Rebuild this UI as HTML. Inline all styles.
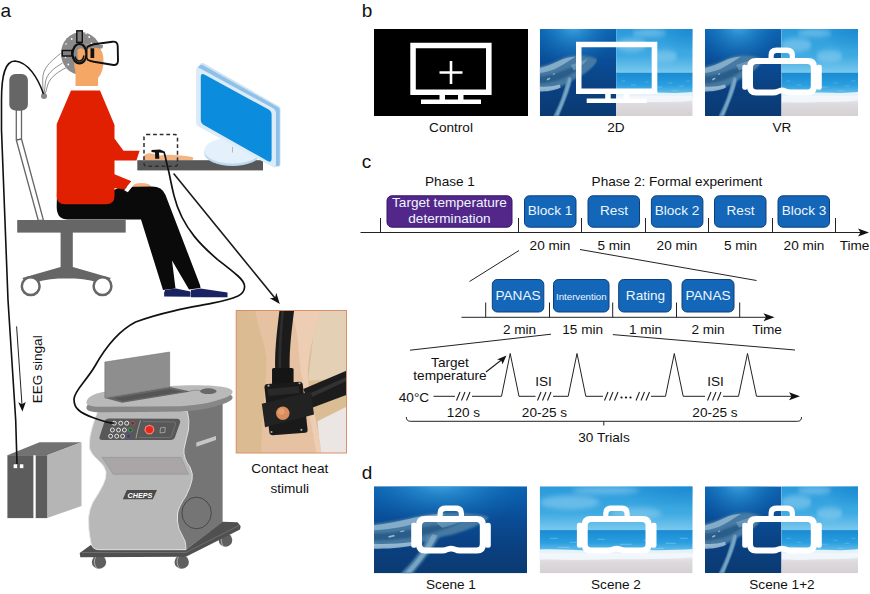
<!DOCTYPE html>
<html>
<head>
<meta charset="utf-8">
<title>Figure</title>
<style>
html,body{margin:0;padding:0;background:#fff;}
body{width:870px;height:594px;overflow:hidden;font-family:"Liberation Sans",sans-serif;}
svg{display:block;}
text{font-family:"Liberation Sans",sans-serif;fill:#111;}
.t{font-size:13.6px;text-anchor:middle;}
.lab{font-size:19px;}
.w{fill:#fff;}
</style>
</head>
<body>
<svg width="870" height="594" viewBox="0 0 870 594">
<defs>
<linearGradient id="oc1" x1="0" y1="0" x2="0" y2="1">
<stop offset="0" stop-color="#0c64b2"/><stop offset="0.35" stop-color="#0a4e98"/><stop offset="0.7" stop-color="#0a4080"/><stop offset="1" stop-color="#0b3a72"/>
</linearGradient>
<radialGradient id="oc2" cx="0.44" cy="-0.1" r="0.6">
<stop offset="0" stop-color="#58b8e8" stop-opacity="1"/><stop offset="0.35" stop-color="#2a92d4" stop-opacity="0.7"/><stop offset="1" stop-color="#0c62b0" stop-opacity="0"/>
</radialGradient>
<linearGradient id="sky" x1="0" y1="0" x2="0" y2="1">
<stop offset="0" stop-color="#2a9adb"/><stop offset="0.600" stop-color="#3eaae2"/><stop offset="1" stop-color="#7ccaee"/>
</linearGradient>
<linearGradient id="sea" x1="0" y1="0" x2="0" y2="1">
<stop offset="0" stop-color="#1a8ad2"/><stop offset="0.5" stop-color="#2a9fe0"/><stop offset="0.85" stop-color="#6cc0ea"/><stop offset="1" stop-color="#c0e4f6"/>
</linearGradient>
<linearGradient id="sand" x1="0" y1="0" x2="0" y2="1">
<stop offset="0" stop-color="#eef4f9"/><stop offset="0.4" stop-color="#dedbdf"/><stop offset="1" stop-color="#d4d0d4"/>
</linearGradient>
<filter id="bl1" x="-20%" y="-20%" width="140%" height="140%"><feGaussianBlur stdDeviation="1.3"/></filter>
<filter id="bl3" x="-30%" y="-50%" width="160%" height="200%"><feGaussianBlur stdDeviation="2.500"/></filter>
<radialGradient id="skyc" cx="1" cy="0" r="0.500"><stop offset="0" stop-color="#1583cc" stop-opacity="0.700"/><stop offset="1" stop-color="#1583cc" stop-opacity="0"/></radialGradient>
<filter id="bl2" x="-20%" y="-20%" width="140%" height="140%"><feGaussianBlur stdDeviation="0.7"/></filter>
<clipPath id="cfull"><rect x="0" y="0" width="153" height="87"/></clipPath>
<clipPath id="cleft"><rect x="0" y="0" width="76.500" height="87"/></clipPath>
<clipPath id="cright"><rect x="76.500" y="0" width="76.500" height="87"/></clipPath>
<g id="oceanraw">
<rect width="153" height="87" fill="url(#oc1)"/>
<rect width="153" height="87" fill="url(#oc2)"/>
<g filter="url(#bl1)">
<path d="M-4 38 C10 36.500 24 34.500 37 31.300 C50 28 60 27 70.500 26.600 C82 26.200 92 26.600 100 27.600 C108 28.600 113 29.500 115 31 C113 34 106 38 100 40.600 C90 45 80 48 70.500 50 C60 53 50 56 42.500 57.400 C34 59.500 20 61 -4 61 Z" fill="#4a7ca3" opacity="0.950"/>
<path d="M-4 47 C14 47 30 45 46 41.500 C60 38.500 74 37 88 35 C80 40 66 45 52 48.500 C36 52.500 16 54.500 -4 54.500 Z" fill="#1c507e" opacity="0.650"/>
<path d="M54 50 C50 60 42 72 34 80 C30 84 28 86 26 89 L37 89 C43 82 51 72 57 64 C61 58 63 54 65 50 Z" fill="#5a8db2" opacity="0.950"/>
</g>
<g filter="url(#bl2)">
<path d="M0 39 C12 37.500 24 35.500 38 32 C50 29 60 28 72 27.500 C62 31 50 34.500 40 37.500 C26 41.500 12 43.500 0 44 Z" fill="#9cc2da" opacity="0.700"/>
<path d="M0 57.500 C12 58 26 57.500 40 55.500 L42 58.500 C28 62 12 62.500 0 62.500 Z" fill="#b0cee0" opacity="0.750"/>
<path d="M58 48 C54 58 46 70 38 79 L32 86 L37 86 C44 79 52 68 58 59 C60 55 62 52 63 49 Z" fill="#9cc0d8" opacity="0.500"/>
<path d="M62 36 C72 34 84 33 96 29.500 C90 35 78 39.500 68 41.500 Z" fill="#7fabc8" opacity="0.600"/>
<path d="M14 50 l6 -1.500 l1 1.500 l-6 1.500 Z M26 45 l4 -1 l0.500 1 l-4 1 Z" fill="#c4dcea" opacity="0.700"/>
</g>
</g>
<g id="ocean" clip-path="url(#cfull)"><use href="#oceanraw"/></g>
<g id="beachraw">
<rect width="153" height="44.500" fill="url(#sky)"/>
<rect width="153" height="44.500" fill="url(#skyc)"/>
<g fill="#b4e0f6" opacity="0.400" filter="url(#bl3)">
<ellipse cx="30" cy="16" rx="30" ry="7"/><ellipse cx="96" cy="27" rx="26" ry="6"/><ellipse cx="66" cy="4" rx="34" ry="4"/>
</g>
<rect y="43.800" width="153" height="25" fill="url(#sea)"/>
<rect y="67" width="153" height="20" fill="url(#sand)"/>
<path d="M-4 63.500 C20 62 40 65 60 64 C90 62.500 120 65.500 157 62.500 L157 71 C120 74 80 72.500 50 73.500 C30 74 10 72.500 -4 73.500 Z" fill="#f2f8fc" opacity="0.900" filter="url(#bl2)"/>
<g stroke="#d8f0fb" stroke-width="0.700" opacity="0.450" fill="none">
<path d="M10 52 h8 M30 56 h10 M58 53 h7 M80 58 h12 M104 54 h8 M126 57 h10 M18 61 h12 M66 62 h14 M112 62 h12 M140 52 h8"/>
</g>
</g>
<g id="beach" clip-path="url(#cfull)"><use href="#beachraw"/></g>
<g id="combo" clip-path="url(#cfull)">
<g transform="translate(76.500 0) scale(0.5 1)"><use href="#beachraw"/></g>
<g clip-path="url(#cleft)"><g transform="scale(0.5 1)"><use href="#oceanraw"/></g></g>
</g>
<g id="vr" fill="#fff" fill-rule="evenodd">
<path d="M51 29.700 H103 Q112 29.700 112 38.700 V58.300 Q112 67.300 103 67.300 H86 Q82.500 67.300 80.500 66 Q77 64.300 73.500 66 Q71.500 67.300 68 67.300 H51 Q42 67.300 42 58.300 V38.700 Q42 29.700 51 29.700 Z M51.500 35.800 Q48 35.800 48 39.300 V57.800 Q48 61.300 51.500 61.300 H68 Q71 61.300 73 60.200 Q77 58.500 81 60.200 Q83 61.300 86 61.300 H102.300 Q105.800 61.300 105.800 57.800 V39.300 Q105.800 35.800 102.300 35.800 Z"/>
<rect x="37.200" y="36.500" width="5.800" height="25" rx="2.300"/>
<rect x="111" y="36.500" width="5.800" height="25" rx="2.300"/>
<path d="M63.500 30.500 V27.200 Q63.500 19.200 71.500 19.200 H82 Q90 19.200 90 27.200 V30.500 H84.800 V27.800 Q84.800 24.800 81.800 24.800 H71.700 Q68.700 24.800 68.700 27.800 V30.500 Z"/>
</g>
<g id="mon" fill="#fff" fill-rule="evenodd">
<path d="M36.300 13.700 H117.600 V66 H36.300 Z M41.800 19.200 V60.500 H112 V19.200 Z"/>
<rect x="65.500" y="65.500" width="5.500" height="5.500"/><rect x="84" y="65.500" width="5.500" height="5.500"/>
<rect x="47" y="70.500" width="60" height="4.500"/>
</g>

</defs>
<rect width="870" height="594" fill="#fff"/>
<g id="panel-a">
<text class="lab" x="0.500" y="17">a</text>
<!-- chair -->
<g id="chair">
<rect x="9.300" y="74" width="18.600" height="36.500" rx="6" fill="#666"/>
<path d="M16.300 110 L21.500 110 L21.500 139 L43.500 220.500 L38.300 220.500 L16.300 140 Z" fill="#fff" stroke="#666" stroke-width="1.300" stroke-linejoin="round"/>
<path d="M16.300 140 L21.500 139" stroke="#666" stroke-width="1.300"/>
<rect x="17.200" y="220" width="108.500" height="12.600" fill="#666"/>
<path d="M60.600 232 H72.800 V267 L111 278 L104 284.500 Q92 279.500 74.800 278.400 L58.600 278.400 Q42 279.500 29 284.500 L22.200 278 L60.600 267 Z" fill="#666"/>
<circle cx="30.700" cy="286.200" r="8.900" fill="#fff" stroke="#666" stroke-width="2.500"/>
<circle cx="102.500" cy="286.200" r="8.900" fill="#fff" stroke="#666" stroke-width="2.500"/>
</g>
<!-- electrode wires -->
<g fill="none" stroke="#444" stroke-width="0.600">
<path d="M60.500 53.500 C50 62 42.500 68 42.700 80 L43 93"/>
<path d="M62.500 63 C54 68 46.500 74 45.500 82 L44.200 93"/>
<path d="M69 66.500 C60 70 50.500 77 48 84 L45.400 93"/>
</g>
<circle cx="44" cy="96" r="3" fill="#888"/>
<!-- person -->
<g id="person">
<path d="M143 160.200 L143.500 156 Q146 153 150 153.300 Q156 154 160 155.500 Q166 154.500 172 155 Q184 155.500 192 157 Q195 158.500 192 160.200 Z" fill="#f3b482"/>
<ellipse cx="141.500" cy="186.500" rx="9.500" ry="3.500" fill="#f3b482"/>
<!-- pants -->
<path d="M57 190 L114 190 L120 187 L152 186.600 Q162 186.600 165.500 195 L200 285 L200.500 288 L189 289.500 L172 260.500 L175.500 288.500 L163 290 L141 219.500 L68 219.500 Q56.700 219.500 56.700 207 Z" fill="#0a0a0a"/>
<!-- shoes -->
<path d="M165 290 L176 288.500 L190.500 291.500 L190.500 296.800 L164.200 296.500 Q163.800 292 165 290 Z" fill="#1b2262"/>
<path d="M191 290 L200.500 288.500 L227.500 292.500 L227.500 297.300 L191 297.300 Z" fill="#1b2262"/>
<!-- sweater -->
<path d="M71 90.500 L100 90.500 L114.500 125 L114.500 138.600 L123.500 150.700 L139.600 150.700 L136.400 160.400 L114.500 160.400 L114.500 174.300 L131.500 181.200 L124.500 189.500 L114.500 188 L114.500 196 Q114.500 204.200 106 204.200 L65 204.200 Q56.700 204.200 56.700 196 L56.700 124 Z" fill="#e02000"/>
<path d="M132.300 180.300 L135.800 182.300 L127.800 192.300 L124.200 190.200 Z" fill="#fff"/>
<!-- head -->
<ellipse cx="81" cy="53.500" rx="20" ry="21.500" fill="#8a8a8a"/>
<path d="M75.500 86 L75.500 72 Q73.800 66 74 58 Q75 45 88 44.500 Q103.500 45 103.500 60 Q103.500 72 98 78 L98 86 Z" fill="#f5a766"/>
<path d="M74 45 L103 45 L102.500 48.500 L92 47.500 L86 53 L80 62 L74 62 Z" fill="#8a8a8a"/>
<g fill="#fff"><circle cx="71.700" cy="39" r="0.900"/><circle cx="89.200" cy="37" r="0.900"/><circle cx="91.500" cy="43.500" r="0.900"/><circle cx="68.300" cy="64.500" r="0.900"/><circle cx="65.500" cy="57.500" r="0.800"/><circle cx="86" cy="33.500" r="0.800"/><circle cx="66" cy="44" r="0.800"/></g>
<!-- headset -->
<rect x="76.800" y="30.800" width="5.500" height="11.500" fill="#808080" stroke="#111" stroke-width="1.400"/>
<rect x="62.300" y="50.500" width="9.500" height="5.500" fill="#808080" stroke="#111" stroke-width="1.400"/>
<ellipse cx="79.500" cy="53.700" rx="7" ry="9.700" fill="#8a8a8a" stroke="#111" stroke-width="2.200"/>
<path d="M77.500 50 Q81 46.500 84.500 50 L85 57 Q83 61.500 79.500 61 Q77 60 77.500 50 Z" fill="#f5a766"/><path d="M75 56.500 Q76 61 79.500 61 Q83 61 84 55.500" fill="none" stroke="#111" stroke-width="1.500"/>
<path d="M87.200 47 V59.500" stroke="#111" stroke-width="1.600" fill="none"/>
<rect x="87.500" y="48.500" width="3.500" height="9.500" fill="#f5a766"/>
<rect x="90.500" y="48.300" width="3.700" height="9.700" fill="#111"/>
<path d="M87 47 Q91 45 94 44.300 L112.500 41.700 Q117.500 41.300 117.700 46 L118 60.500 Q118 65.300 113.500 65 L94 61.800 Q90 61 87 59.500" fill="none" stroke="#111" stroke-width="1.900" stroke-linejoin="round"/>
</g>
<!-- desk + monitor -->
<rect x="137.300" y="160.200" width="125.700" height="10.200" fill="#585858"/>
<ellipse cx="232.500" cy="153" rx="28.300" ry="13" fill="#bcd9f0"/>
<ellipse cx="232.500" cy="150.500" rx="28.300" ry="13" fill="#e4f0fa"/>
<path d="M232.500 147 V152.500" stroke="#9ab" stroke-width="0.800"/>
<path d="M200 64.500 Q201.500 62 204.500 63.700 L279 106.200 Q280.500 107 280.500 109 L280.500 164 Q280.500 167.500 277.500 166.500 L275 167 L275 110 L197 67.500 Z" fill="#cfe3f5"/>
<path d="M199 66.500 Q200.500 63.800 203.500 65.500 L278.500 107.600 Q279.700 108.400 279.700 110 L279.700 164 Q279.700 166.500 277.500 166 L275 166.500 L275 110 L197.500 68 Z" fill="#8ec1e8"/>
<path d="M196 70.500 Q196 66.300 199.800 68.300 L273.500 108.500 Q276 110 276 113 L276 165 Q276 168.800 272.800 167 L198.500 126.500 Q196 125 196 122 Z" fill="#dcebf8"/>
<path d="M200.800 77 Q200.800 72.500 204.800 74.700 L268.600 109.600 Q271.600 111.300 271.600 114.800 L271.600 158.600 Q271.600 163.200 267.600 161 L203.800 125 Q200.800 123.300 200.800 119.800 Z" fill="#0b8cdc"/>
<!-- dashed box -->
<rect x="144" y="134.500" width="33.500" height="31.800" rx="2.500" fill="none" stroke="#2e2e2e" stroke-width="1.500" stroke-dasharray="3.800 2.800"/>
<path d="M151.500 150 L160 149.500 L164.500 151.500 L164.500 153 L159 152.500 L159.300 158.800 L155.200 158.800 L155 152.500 L151.500 152 Z" fill="#111"/>
<!-- arrow to photo -->
<path d="M173.600 173.400 L275.500 298.800" stroke="#1a1a1a" stroke-width="1.600" fill="none"/>
<path d="M279.800 304 L269.800 298.300 L275 297.800 L276.300 292.800 Z" fill="#111"/>
<!-- EEG arrow -->
<path d="M16.600 326.400 L22 405" stroke="#222" stroke-width="1" fill="none"/>
<path d="M22.400 411.500 L18.200 402.300 L21.900 404.300 L25.800 402 Z" fill="#111"/>
<text class="t" transform="translate(41.800 369.300) rotate(-90)" x="0" y="0">EEG singal</text>
<!-- EEG box -->
<g id="eegbox">
<path d="M7.400 455.200 L39.500 442.200 L81.500 442.200 L47.200 455.200 Z" fill="#727272"/>
<path d="M47.200 455.200 L81.500 442.200 L81.500 506 L47.200 518.100 Z" fill="#b5b5b5"/>
<rect x="7.400" y="455.200" width="26" height="62.900" fill="#5c5c5c"/>
<rect x="35.700" y="455.200" width="11.500" height="62.900" fill="#5c5c5c"/>
<rect x="13.200" y="464" width="4.200" height="4.400" fill="#fff" stroke="#444" stroke-width="0.500"/><rect x="19.600" y="464" width="4.200" height="4.400" fill="#fff" stroke="#444" stroke-width="0.500"/>
</g>
<!-- EEG cable -->
<path d="M43.500 94 C38 78 28 62 15 61 C5 61 1.500 75 1.500 100 L1.500 130 L8 300 L15.700 420 L17 464" fill="none" stroke="#111" stroke-width="1.600"/>
<!-- CHEPS machine -->
<g id="cheps">
<!-- wheels -->
<g fill="#5f5f5f"><ellipse cx="99" cy="562" rx="7.200" ry="6.800"/><ellipse cx="181.700" cy="562" rx="7.200" ry="6.800"/><ellipse cx="225.500" cy="540" rx="6.800" ry="6.800"/></g>
<g fill="none" stroke="#d0d0d0" stroke-width="0.700"><path d="M96 556.500 Q92.500 562 96.500 568"/><path d="M178.700 556.500 Q175.200 562 179.200 568"/><path d="M222.500 534.500 Q219.500 540 223 546"/></g>
<!-- base platform -->
<path d="M79.700 553 L90.700 545 L185.900 549.700 L222 521.700 L237.600 522.300 L240.700 526.300 L240 529.600 L185.900 556.700 L80.300 557.200 Z" fill="#505050"/>
<path d="M82 552.500 L186 552.500 L239 525.500" fill="none" stroke="#7a7a7a" stroke-width="0.700"/>
<!-- dark side body -->
<path d="M184 408 L222.600 400 L222.600 522 L186 550 L176 548 Z" fill="#757575"/>
<!-- front body -->
<path d="M97.600 411.500 L187.400 411.500 Q189.800 420 188.500 430 Q186 440 184 449 Q183 458 190 467 Q193.500 474 192 480 Q190.500 487 186 496 Q179 506 177.600 513 Q176.500 521 179 529 Q183 537 185 541 Q186 545 185.900 549.700 L99 549.700 Q91.500 549.500 90.700 542 Q88 528 88.600 517.600 Q89 510 93 502 Q99 493 103 485 Q106.500 478 106 472 Q105 466 98 460 Q90 453 89.300 447 Q89 438 92 428 Q95 418 97.600 411.500 Z" fill="#b8b8b8" stroke="#e8e8e8" stroke-width="0.900"/>
<ellipse cx="196.600" cy="513" rx="14.700" ry="15.800" fill="none" stroke="#2a2a2a" stroke-width="0.600"/>
<path d="M196.300 442.600 L216 436 L216 440 L196.300 446.800 Z" fill="#c6c6c6"/>
<!-- drawer -->
<path d="M102.200 457.400 L181 457.400 L188.300 474.200 L113.300 474.200 Z" fill="#aaa6a8" stroke="#8a8a8a" stroke-width="0.500"/>
<!-- control panel -->
<path d="M109 418.500 L177 418.800 Q181 419 180 423 L175 437 Q174 440 170.500 440 L102.500 440 Q98.500 440 99.700 436.500 L104.500 421.500 Q105.500 418.500 109 418.500 Z" fill="#585858"/>
<path d="M140.500 420.500 Q137.500 429 136 438.500" stroke="#ccc" stroke-width="0.600" fill="none"/>
<path d="M143 421.500 L174 422 Q176 422 175.500 424 L171.500 436 Q171 437.500 169 437.500 L139 437.500" stroke="#8a8a8a" stroke-width="0.500" fill="none"/>
<g fill="none" stroke="#f2f2f2" stroke-width="0.900">
<circle cx="114.300" cy="423.200" r="2"/><circle cx="120.700" cy="423.200" r="2"/><circle cx="126.700" cy="423.200" r="2"/>
<circle cx="112.400" cy="430" r="2"/><circle cx="118.500" cy="430" r="2"/><circle cx="124.400" cy="430" r="2"/>
<circle cx="110.600" cy="436.200" r="2"/><circle cx="116.700" cy="436.200" r="2"/><circle cx="122.600" cy="436.200" r="2"/>
</g>
<circle cx="132.800" cy="423.200" r="2" fill="#444" stroke="#c05050" stroke-width="0.900"/>
<circle cx="130.400" cy="430" r="2" fill="#444" stroke="#40a050" stroke-width="0.900"/>
<circle cx="128.500" cy="436.200" r="2" fill="#444" stroke="#5050b0" stroke-width="0.900"/>
<path d="M149.400 425.200 L153 426.800 L153.900 430.500 L151.500 433.700 L147.300 433.700 L144.900 430.500 L145.800 426.800 Z" fill="#e8281e" stroke="#f08070" stroke-width="1.200" stroke-linejoin="round"/>
<path d="M160.500 427.800 L165.300 427.500 L164.800 432.500 L160 432.800 Z" fill="none" stroke="#bbb" stroke-width="0.700"/>
<!-- table top -->
<path d="M86.500 407 C88 401 98 398 106 397 L170 391.500 C192 390 216 390.500 226 393 C233 395 234.500 397.500 230.500 400.500 C221 406.500 201 410.500 181 411.700 L101 412.300 C90.500 412.300 85.500 410.500 86.500 407 Z" fill="#878787"/>
<path d="M86.500 401.500 C88 395.500 98 392.500 106 391.500 L170 386 C192 384.500 216 385 226 387.500 C233 389.500 234.500 392 230.500 395 C221 401 201 405 181 406.200 L101 406.800 C90.500 406.800 85.500 405 86.500 401.500 Z" fill="#b9b9b9"/>
<ellipse cx="208.300" cy="391.200" rx="8.300" ry="2.900" fill="#686868"/>
<path d="M190 391 Q195 389.500 200.500 390.500" fill="none" stroke="#777" stroke-width="0.600"/>
<!-- laptop -->
<path d="M104.800 398 L169.700 387 L190.500 391.500 L122.300 402.700 Z" fill="#646464"/>
<path d="M111 398.300 L169.500 388.600 L184.500 391.700 L123.500 401.500 Z" fill="#555" stroke="#7a7a7a" stroke-width="0.400"/>
<path d="M104.800 362 L169.700 352 L169.700 387 L104.800 398 Z" fill="#8e8e8e" stroke="#6a6a6a" stroke-width="0.500"/>
<!-- CHEPS label -->
<path d="M126.900 490 L157 490 L152.800 499.200 L122.800 499.200 Z" fill="#4a4a4a"/>
<text x="140" y="497.600" text-anchor="middle" style="font-size:7.200px;font-weight:bold;font-style:italic;fill:#fff">CHEPS</text>
</g>
<!-- device cable -->
<path d="M164 152 C166 158 166.500 164 168.900 172 C170.500 180 172 188 174 195.600 C178 212 186 226 194.500 236.600 C202 246 210 253 217.600 259.600 C226 266 233 271.500 238 276 C242 279.500 244.700 283.500 244.600 287 C244.300 291 241 294.500 238 296 C230 299.500 221 301.500 212.400 303.200 C199 305.800 186 308 174 310.800 C160 314 146 318 135.600 322 C118 331 104 350 95 366 C87 380 74 391 74 399 C74 405 76 408 78.500 410 C84 415 92 417 97 419 C103 421 108 422.800 113.500 423.200" fill="none" stroke="#111" stroke-width="1.700"/>
<!-- photo -->
<g id="photo">
<clipPath id="cph"><rect x="236.200" y="310.500" width="110.300" height="142.500"/></clipPath>
<g clip-path="url(#cph)">
<g transform="translate(230 300) scale(0.26940)">
<rect x="20" y="36" width="414" height="534" fill="#dbbd94"/>
<path d="M20 36 L110 36 L140 220 L125 568 L20 568 Z" fill="#dbbc92"/>
<path d="M320 36 L434 36 L434 290 L290 300 Z" fill="#e4d0b4"/>
<path d="M325 450 L434 395 L434 570 L335 570 Z" fill="#ebe5e3"/>
<path d="M92 36 C110 120 132 170 135 220 C136 300 120 400 116 570 L338 570 C332 480 300 380 290 300 C285 240 300 150 338 36 Z" fill="#e6c2a2"/>
<path d="M230 60 C260 120 250 220 270 300 C280 380 310 480 320 570 L338 570 C332 480 300 380 290 300 C285 240 300 150 338 36 L240 36 Z" fill="#efd2ba" opacity="0.700"/>
<path d="M212 28 C204 100 190 180 195 262" fill="none" stroke="#1b1b1b" stroke-width="54"/>
<path d="M196 30 C192 100 180 180 186 262" fill="none" stroke="#3a3a3a" stroke-width="10" opacity="0.600"/>
<rect x="156" y="252" width="80" height="66" rx="6" fill="#151515"/>
<path d="M272 330 L434 262 L434 352 L300 402 Z" fill="#1c1c1c"/>
<path d="M300 345 L434 285 L434 300 L305 360 Z" fill="#3c3c3c" opacity="0.700"/>
<path d="M138 312 L258 303 Q268 303 270 313 L288 482 Q289 492 279 493 L158 502 Q148 502 146 492 L128 324 Q128 313 138 312 Z" fill="#1a1a1a"/>
<path d="M118 385 L300 340 L312 425 L130 472 Z" fill="#222"/>
<path d="M140 330 L255 320 L258 345 L143 356 Z" fill="#333" opacity="0.600"/>
<circle cx="196" cy="420" r="25" fill="#d98c5c"/>
<circle cx="191" cy="414" r="12" fill="#eaa878" opacity="0.700"/>
<g fill="#aaa"><circle cx="143" cy="318" r="4"/><circle cx="258" cy="309" r="4"/><circle cx="154" cy="490" r="4"/><circle cx="265" cy="482" r="4"/></g>
</g>
</g>
<rect x="236.200" y="310.500" width="110.300" height="142.500" fill="none" stroke="#d9906a" stroke-width="1"/>
</g>
<text class="t" x="289.700" y="473.300">Contact heat</text>
<text class="t" x="289.700" y="492.700">stimuli</text>
</g>

<g id="panel-b">
<text class="lab" x="361.800" y="16.500">b</text>
<rect x="374" y="29" width="154" height="87" fill="#000"/>
<g transform="translate(374 29)"><use href="#mon"/><path d="M65.500 43.500 H88.500 M77 32 V55" stroke="#fff" stroke-width="2.600" fill="none"/></g>
<g transform="translate(539.700 29)"><use href="#combo"/><use href="#mon" transform="translate(0 -1)"/></g>
<g transform="translate(705 29)"><use href="#combo"/><use href="#vr" transform="translate(0 -0.800)"/></g>
<text class="t" x="451" y="131.600">Control</text>
<text class="t" x="616" y="131.600">2D</text>
<text class="t" x="782" y="131.600">VR</text>
</g>

<g id="panel-c">
<text class="lab" x="361.800" y="168">c</text>
<text class="t" x="450" y="185.700">Phase 1</text>
<text class="t" x="677" y="185.700">Phase 2: Formal experiment</text>
<g stroke="#222" stroke-width="1" fill="none">
<path d="M360.5 232.5H862"/>
<path d="M380.500 218V232.500M518.500 218V232.500M581.500 218V232.500M645.500 218V232.500M708.500 218V232.500M772.500 218V232.500M835.500 218V232.500"/>
<path d="M519 250.5L469.5 281.5M580 249.5L756.5 280.5"/>
<path d="M461.500 317.300H768"/>
<path d="M485.700 302.500V317.300M549.500 302.500V317.300M612.700 302.500V317.300M676.500 302.500V317.300M739.700 302.500V317.300"/>
<path d="M551 334.200L410 350.200M612.800 334.600L795 350"/>
</g>
<path d="M869 232.5L858 228.5L860.5 232.5L858 236.5Z" fill="#111"/>
<path d="M774.500 317.300L763.500 313.300L766 317.300L763.500 321.300Z" fill="#111"/>
<rect x="387" y="195.800" width="125" height="31.400" rx="5" fill="#53278a" stroke="#35166a" stroke-width="1"/>
<text class="t w" x="449.500" y="206.800" style="fill:#eef6fd">Target temperature</text>
<text class="t w" x="449.500" y="223.300" style="fill:#eef6fd">determination</text>
<g fill="#1467b8" stroke="#0c3f7a" stroke-width="1">
<rect x="524.500" y="195.800" width="51.500" height="31.400" rx="5"/>
<rect x="588" y="195.800" width="51.500" height="31.400" rx="5"/>
<rect x="651.400" y="195.800" width="51.500" height="31.400" rx="5"/>
<rect x="714.500" y="195.800" width="51.500" height="31.400" rx="5"/>
<rect x="778" y="195.800" width="51.500" height="31.400" rx="5"/>
<rect x="492.300" y="279.500" width="51.500" height="32.500" rx="5"/>
<rect x="553.500" y="279.500" width="55.500" height="32.500" rx="5"/>
<rect x="618.700" y="279.500" width="52.500" height="32.500" rx="5"/>
<rect x="682" y="279.500" width="52" height="32.500" rx="5"/>
</g>
<g style="fill:#eef6fd">
<text class="t" x="550" y="215" style="fill:#eef6fd">Block 1</text>
<text class="t" x="614" y="215" style="fill:#eef6fd">Rest</text>
<text class="t" x="677" y="215" style="fill:#eef6fd">Block 2</text>
<text class="t" x="740.5" y="215" style="fill:#eef6fd">Rest</text>
<text class="t" x="804" y="215" style="fill:#eef6fd">Block 3</text>
<text class="t" x="518" y="300.300" style="fill:#eef6fd">PANAS</text>
<text class="t" x="581.300" y="300" style="fill:#eef6fd;font-size:9.700px">Intervention</text>
<text class="t" x="645.5" y="300.300" style="fill:#eef6fd">Rating</text>
<text class="t" x="708" y="300.300" style="fill:#eef6fd">PANAS</text>
</g>
<text class="t" x="550" y="250.200">20 min</text>
<text class="t" x="614" y="250.200">5 min</text>
<text class="t" x="677" y="250.200">20 min</text>
<text class="t" x="740.5" y="250.200">5 min</text>
<text class="t" x="804" y="250.200">20 min</text>
<text class="t" x="854.500" y="250.200">Time</text>
<text class="t" x="519.500" y="334.200">2 min</text>
<text class="t" x="582.700" y="334.200">15 min</text>
<text class="t" x="645.5" y="334.200">1 min</text>
<text class="t" x="708" y="334.200">2 min</text>
<text class="t" x="767" y="334.200">Time</text>
<text class="t" x="450" y="366.700">Target</text>
<text class="t" x="450" y="380">temperature</text>
<text class="t" x="414" y="401.500">40°C</text>
<text class="t" x="463.500" y="417">120 s</text>
<text class="t" x="544.500" y="417">20-25 s</text>
<text class="t" x="715" y="417">20-25 s</text>
<text class="t" x="543.500" y="386">ISI</text>
<text class="t" x="715.500" y="386">ISI</text>
<text class="t" x="604" y="442.300">30 Trials</text>
<g stroke="#222" stroke-width="1" fill="none" stroke-linejoin="miter">
<path d="M433.500 396.300H455M472 396.300H501.500L510.200 353.500L519 396.300H535.500M553 396.300H568.200L577 353.500L585.800 396.300H603M651 396.300H665.500L674.300 353.500L683.200 396.300H705M723 396.300H738.500L747.500 353.500L756.500 396.300H792"/>
<g stroke-width="1.100">
<path d="M456.500 400.500l3.500-8.500M461.500 400.500l3.500-8.500M466.500 400.500l3.500-8.500"/>
<path d="M537.500 400.500l3.500-8.500M542.500 400.500l3.500-8.500M547.500 400.500l3.500-8.500"/>
<path d="M604.500 400.500l3.500-8.500M609.500 400.500l3.500-8.500M614.500 400.500l3.500-8.500"/>
<path d="M636 400.500l3.500-8.500M641 400.500l3.500-8.500M646 400.500l3.500-8.500"/>
<path d="M707.500 400.500l3.500-8.500M712.500 400.500l3.500-8.500M717.500 400.500l3.500-8.500"/>
</g>
<path d="M486 372L502 359.500" stroke-width="1.200"/>
<path d="M406.300 417Q406.300 421.300 410.500 421.300H797.500Q801.500 421.300 801.500 417M603.800 421.300V425.500"/>
</g>
<g fill="#111">
<circle cx="621.500" cy="397.500" r="1.100"/><circle cx="626" cy="397.500" r="1.100"/><circle cx="630.500" cy="397.500" r="1.100"/>
<path d="M800 396.300L789 392.300L791.500 396.300L789 400.300Z"/>
<path d="M506.500 355.500L502.500 364.200L501.200 360.300L497 359.500Z"/>
</g>
</g>

<g id="panel-d">
<text class="lab" x="361.800" y="478.500">d</text>
<g transform="translate(374 486.300)"><use href="#ocean"/><use href="#vr"/></g>
<g transform="translate(539.700 486.300)"><use href="#beach"/><use href="#vr"/></g>
<g transform="translate(705 486.300)"><use href="#combo"/><use href="#vr"/></g>
<text class="t" x="451" y="588.600">Scene 1</text>
<text class="t" x="616" y="588.600">Scene 2</text>
<text class="t" x="782" y="588.600">Scene 1+2</text>
</g>

</svg>
</body>
</html>
